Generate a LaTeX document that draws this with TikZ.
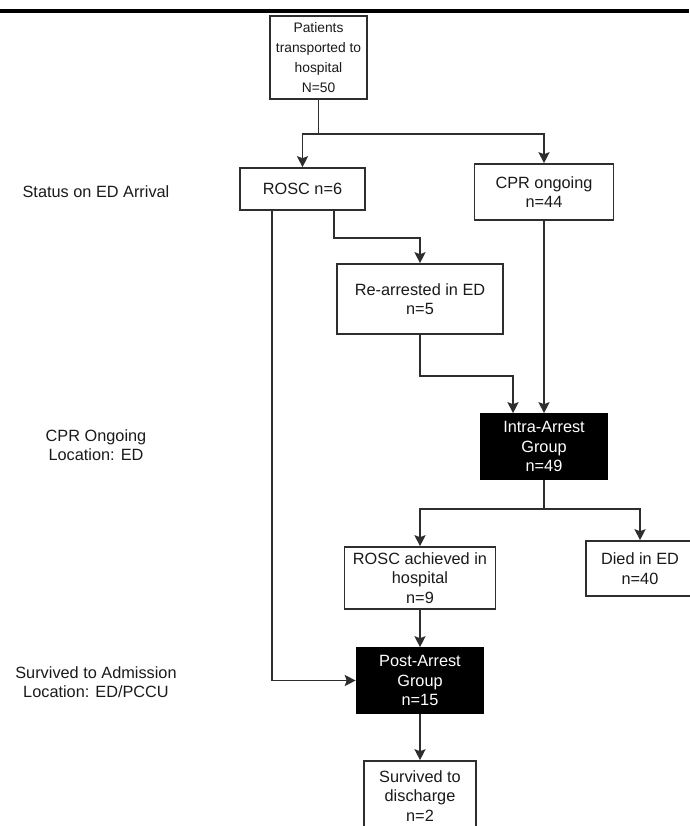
\documentclass[tikz,border=0pt]{standalone}
\usepackage{fontspec}
\setmainfont{Liberation Sans}
\usetikzlibrary{arrows.meta}
\definecolor{ln}{HTML}{2E2E2E}
\definecolor{tx}{HTML}{1A1A1A}
\begin{document}
\begin{tikzpicture}[x=1pt,y=-1pt,
  box/.style={draw=ln, line width=1.6pt, fill=white, align=center, inner sep=0pt,
              font=\fontsize{16.3}{19.5}\selectfont, text=tx},
  dark/.style={box, fill=black, draw=black, text=white},
  arr/.style={draw=ln, line width=1.6pt, -{Stealth[length=11pt,width=11pt,inset=2pt]}},
  plain/.style={draw=ln, line width=1.6pt},
  lab/.style={align=center, font=\fontsize{16.3}{19.5}\selectfont, text=tx}]
\useasboundingbox (0,0) rectangle (689,826);
\coordinate (rl) at (0,11);
\coordinate (rr) at (689,11);
\draw[line width=4pt, black] (rl) -- (rr);

\node[box, font=\fontsize{13.8}{20}\selectfont, minimum width=97pt, minimum height=83pt] (pat) at (318.5,57.5) {Patients\\transported to\\hospital\\N=50};
\node[box, minimum width=125pt, minimum height=42pt] (rosc) at (302.5,189) {ROSC n=6};
\node[box, minimum width=139pt, minimum height=56pt] (cpr) at (544,192) {CPR ongoing\\n=44};
\node[box, minimum width=166pt, minimum height=70pt] (rearr) at (420,299) {Re-arrested in ED\\n=5};
\node[dark, minimum width=127pt, minimum height=65pt] (intra) at (544,446.5) {Intra-Arrest\\Group\\n=49};
\node[box, minimum width=151pt, minimum height=62pt] (rach) at (420,578) {ROSC achieved in\\hospital\\n=9};
\node[box, minimum width=108pt, minimum height=55pt] (died) at (640,568.5) {Died in ED\\n=40};
\node[dark, minimum width=127pt, minimum height=65pt] (post) at (420,680.5) {Post-Arrest\\Group\\n=15};
\node[box, minimum width=112pt, minimum height=70pt] (surv) at (420,796) {Survived to\\discharge\\n=2};

\node[lab] (l1) at (96,192) {Status on ED Arrival};
\node[lab] (l2) at (96,445) {CPR Ongoing\\Location: ED};
\node[lab] (l3) at (96,682) {Survived to Admission\\Location: ED/PCCU};

\coordinate (s1) at (318.5,134);
\draw[plain] (pat.south) -- (s1);
\draw[arr] (s1) -| (rosc.north);
\draw[arr] (s1) -| (cpr.north);
\draw[arr] ([xshift=-30.5pt]rosc.south) |- (post.west);
\draw[arr] ([xshift=31.5pt]rosc.south) -- ++(0,27) -| (rearr.north);
\draw[arr] (rearr.south) -- ++(0,41) -| ([xshift=-31pt]intra.north);
\draw[arr] (cpr.south) -- (intra.north);
\coordinate (s2) at (544,509);
\draw[plain] (intra.south) -- (s2);
\draw[arr] (s2) -| (rach.north);
\draw[arr] (s2) -| (died.north);
\draw[arr] (rach.south) -- (post.north);
\draw[arr] (post.south) -- (surv.north);
\end{tikzpicture}
\end{document}
